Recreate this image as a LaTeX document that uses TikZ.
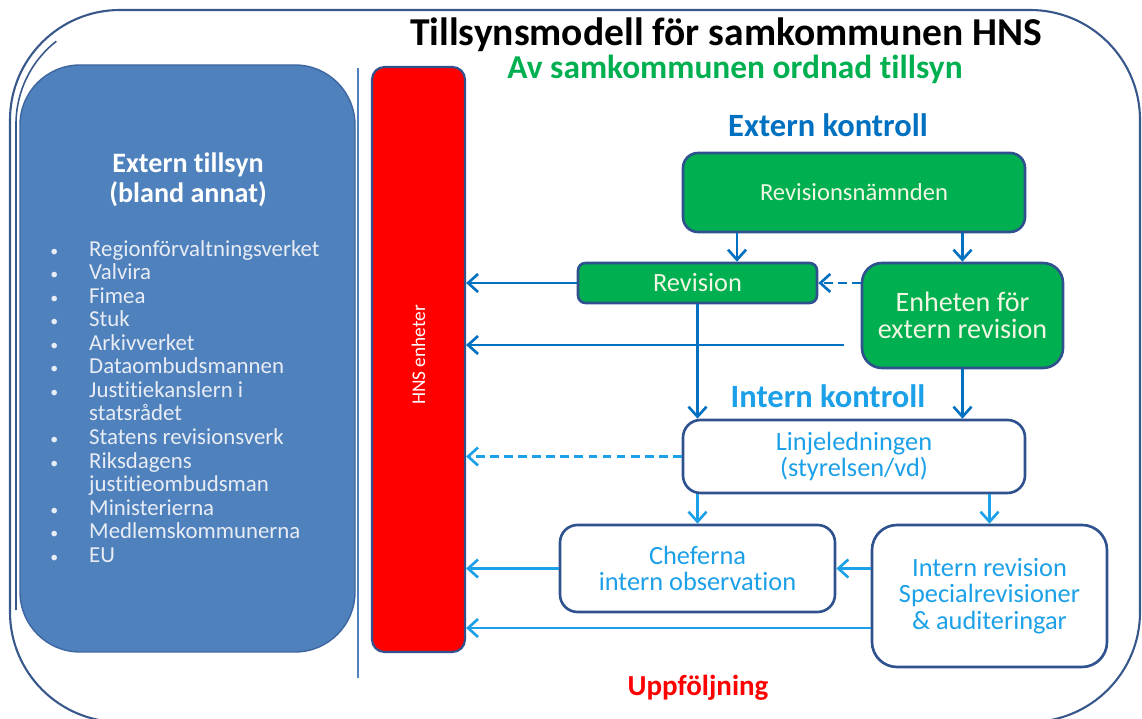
\documentclass[tikz,border=0pt]{standalone}
\usepackage{fontspec}
\setmainfont{Carlito}[Ligatures=NoCommon]
\usetikzlibrary{arrows.meta, positioning}
\definecolor{framec}{RGB}{56,88,140}
\definecolor{panelblue}{RGB}{79,129,189}
\definecolor{paneledge}{RGB}{62,102,160}
\definecolor{hnsred}{RGB}{255,0,0}
\definecolor{boxgreen}{RGB}{0,176,80}
\definecolor{boxedge}{RGB}{47,82,143}
\definecolor{darkflow}{RGB}{0,112,192}
\definecolor{lightflow}{RGB}{28,160,232}
\definecolor{palefont}{RGB}{240,246,226}
\definecolor{listfont}{RGB}{232,236,244}
\tikzstyle{panel} = [rectangle, rounded corners=1.2cm, draw=paneledge, fill=panelblue, line width=0.8pt, minimum width=6.7cm, minimum height=11.74cm]
\tikzstyle{bar} = [rectangle, rounded corners=0.25cm, draw=boxedge, fill=hnsred, line width=1.2pt, minimum width=1.86cm, minimum height=11.7cm]
\tikzstyle{greenbox} = [rectangle, rounded corners=0.3cm, draw=boxedge, fill=boxgreen, line width=1.5pt, inner sep=2pt, text=palefont, align=center, font=\fontsize{15}{15.4}\selectfont]
\tikzstyle{whitebox} = [rectangle, rounded corners=0.35cm, draw=boxedge, fill=white, line width=1.5pt, inner sep=2pt, text=lightflow, align=center, font=\fontsize{15}{15.2}\selectfont]
\tikzstyle{flow} = [->, >={Straight Barb[length=2mm, width=3.6mm]}, line width=1.5pt, darkflow]
\tikzstyle{flowlight} = [flow, lightflow]

\begin{document}
\begin{tikzpicture}
  \useasboundingbox (0,0) rectangle (22.84,14.38);

  % 外框
  \draw[framec, line width=1.2pt, rounded corners=2.2cm] (0.2,-0.06) rectangle (22.8,14.18);
  \draw[framec, line width=0.9pt] (0.32,2.18) -- (0.32,11.9) arc[start angle=180, end angle=128, radius=2.1cm];
  \draw[panelblue, line width=1pt] (7.16,13.02) -- (7.16,0.82);

  % 标题
  \node[font=\fontsize{22.5}{24}\selectfont\bfseries] (title) at (14.52,13.68) {Tillsynsmodell för samkommunen HNS};
  \node[text=boxgreen, font=\fontsize{19}{20}\selectfont\bfseries] (subtitle) at (14.70,13.0) {Av samkommunen ordnad tillsyn};

  % 外部监督
  \node[panel] (ext) at (3.75,7.21) {};
  \node[text=white, align=center, font=\fontsize{16}{17}\selectfont\bfseries] (exthead) at (3.76,10.78) {Extern tillsyn\\(bland annat)};
  \node[anchor=west, inner sep=0pt, text=listfont, font=\fontsize{13}{13.4}\selectfont] (extlist) at (1.0,6.29) {%
    \begin{tabular}{@{}l@{\hspace{0.62cm}}l@{}}
      {\small\textbullet} & Regionförvaltningsverket\\
      {\small\textbullet} & Valvira\\
      {\small\textbullet} & Fimea\\
      {\small\textbullet} & Stuk\\
      {\small\textbullet} & Arkivverket\\
      {\small\textbullet} & Dataombudsmannen\\
      {\small\textbullet} & Justitiekanslern i\\
                          & statsrådet\\
      {\small\textbullet} & Statens revisionsverk\\
      {\small\textbullet} & Riksdagens\\
                          & justitieombudsman\\
      {\small\textbullet} & Ministerierna\\
      {\small\textbullet} & Medlemskommunerna\\
      {\small\textbullet} & EU
    \end{tabular}};

  % HNS
  \node[bar] (hns) at (8.37,7.19) {};
  \node[rotate=90, text=white, font=\fontsize{11}{12}\selectfont] (hnslabel) at (8.37,7.28) {HNS enheter};

  % 外部控制
  \node[text=darkflow, font=\fontsize{18.5}{20}\selectfont\bfseries] (extk) at (16.56,11.88) {Extern kontroll};
  \node[greenbox, minimum width=6.84cm, minimum height=1.58cm, font=\fontsize{14}{15}\selectfont] (rn) at (17.08,10.53) {Revisionsnämnden};
  \node[greenbox, minimum width=4.78cm, minimum height=0.8cm, rounded corners=0.15cm] (rev) at (13.95,8.72) {Revision};
  \node[greenbox, minimum width=4.02cm, minimum height=2.1cm, rounded corners=0.4cm, font=\fontsize{16}{15.4}\selectfont] (enh) at (19.25,8.07) {Enheten för\\extern revision};
  \coordinate (erout) at ([shift={(-0.34,-0.59)}]enh.west);

  % 内部控制
  \node[text=lightflow, font=\fontsize{18.5}{20}\selectfont\bfseries] (intk) at (16.56,6.46) {Intern kontroll};
  \node[whitebox, minimum width=6.84cm, minimum height=1.46cm] (lin) at (17.08,5.25) {Linjeledningen\\(styrelsen/vd)};
  \node[whitebox, minimum width=5.5cm, minimum height=1.74cm] (chef) at (13.95,3.01) {Cheferna\\intern observation};
  \node[whitebox, minimum width=4.7cm, minimum height=2.84cm, rounded corners=0.5cm] (irev) at (19.79,2.46) {Intern revision\\Specialrevisioner\\\& auditeringar};

  \node[text=red, font=\fontsize{16.5}{18}\selectfont\bfseries] (uppf) at (13.96,0.62) {Uppföljning};

  % 箭头
  \draw[flow] ([xshift=0.79cm]rev.north |- rn.south) -- ([xshift=0.79cm]rev.north);
  \draw[flow] (enh.north |- rn.south) -- (enh.north);
  \draw[flow, dashed, dash pattern=on 5pt off 3pt] (rev.east -| enh.west) -- (rev.east);
  \draw[flow] (rev.west) -- (rev.west -| hns.east);
  \draw[flow] (erout) -- (erout -| hns.east);
  \draw[flow] (rev.south) -- (rev.south |- lin.north);
  \draw[flow] (enh.south) -- (enh.south |- lin.north);

  \draw[flowlight, dashed, dash pattern=on 5pt off 3pt] (lin.west) -- (lin.west -| hns.east);
  \draw[flowlight] (chef.north |- lin.south) -- (chef.north);
  \draw[flowlight] (irev.north |- lin.south) -- (irev.north);
  \draw[flowlight] (chef.east -| irev.west) -- (chef.east);
  \draw[flowlight] (chef.west) -- (chef.west -| hns.east);
  \draw[flowlight] ([yshift=-0.64cm]irev.west) -- ([yshift=-0.64cm]irev.west -| hns.east);
\end{tikzpicture}
\end{document}
